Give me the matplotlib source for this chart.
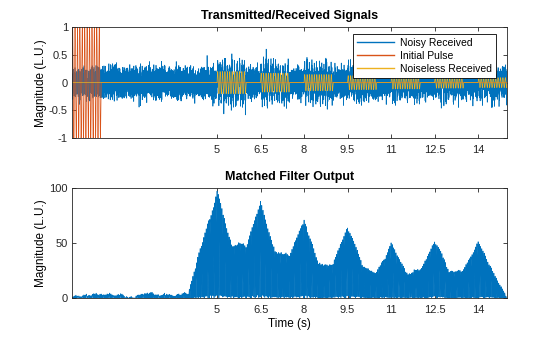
import numpy as np
import matplotlib
matplotlib.use("Agg")
import matplotlib.pyplot as plt

plt.rcParams['font.family'] = ['Liberation Sans', 'DejaVu Sans']

# signal parameters
fs = 1000                 # samples per second
duration = 15.0           # seconds of received signal
pulse_len = 1.0           # seconds
pulse_freq = 12.0         # Hz
noise_std = 0.12
echo_times = [5.0, 6.5, 8.0, 9.5, 11.0, 12.5, 14.0]
echo_amps = [0.20, 0.17, 0.146, 0.126, 0.114, 0.10, 0.09]

time_ticks = [5, 6.5, 8, 9.5, 11, 12.5, 14]
time_tick_labels = ['5', '6.5', '8', '9.5', '11', '12.5', '14']

blue = '#0072BD'
orange = '#D95319'
yellow = '#EDB120'

t = np.arange(int(duration * fs)) / fs
tp = np.arange(int(pulse_len * fs)) / fs
pulse = np.sin(2 * np.pi * pulse_freq * tp)

# transmitted pulse on the full time base
tx = np.zeros_like(t)
tx[:len(pulse)] = pulse

# noiseless echo train
clean = np.zeros_like(t)
for t0, a in zip(echo_times, echo_amps):
    i0 = int(round(t0 * fs))
    seg = pulse[:len(clean) - i0]
    clean[i0:i0 + len(seg)] += a * seg

rng = np.random.default_rng(7)
noisy = clean + noise_std * rng.standard_normal(len(t))

# matched filter: correlate the received signal with the pulse
mf = np.correlate(noisy, pulse, mode='full')[len(pulse) - 1:]
mf = np.abs(mf)

fig = plt.figure(figsize=(5.6, 3.37), dpi=100)
ax1 = fig.add_axes([0.1286, 0.5896, 0.777, 0.3304])
ax2 = fig.add_axes([0.1286, 0.1148, 0.777, 0.3273])

ax1.plot(t, noisy, color=blue, lw=0.5, label='Noisy Received')
ax1.plot(t, tx, color=orange, lw=0.5, label='Initial Pulse')
ax1.plot(t, clean, color=yellow, lw=0.5, label='Noiseless Received')
ax1.set_xlim(0, 15)
ax1.set_ylim(-1, 1)
ax1.set_yticks([-1, -0.5, 0, 0.5, 1])
ax1.set_yticklabels(['-1', '-0.5', '0', '0.5', '1'])
ax1.set_title('Transmitted/Received Signals', fontsize=9, fontweight='bold', pad=5.5)
ax1.set_ylabel('Magnitude (L.U.)', fontsize=8.5, labelpad=1.5)
leg = ax1.legend(loc='upper right', bbox_to_anchor=(0.8857, 0.899),
                 bbox_transform=fig.transFigure, borderaxespad=0,
                 fontsize=7.5, frameon=True, fancybox=False,
                 framealpha=1, edgecolor='black', borderpad=0.35,
                 handlelength=3.6, handletextpad=0.6, labelspacing=0.3)
leg.get_frame().set_linewidth(0.6)
for h in leg.get_lines():
    h.set_linewidth(1.0)

ax2.plot(t, mf, color=blue, lw=0.5)
ax2.set_xlim(0, 15)
ax2.set_ylim(0, 100)
ax2.set_yticks([0, 50, 100])
ax2.set_title('Matched Filter Output', fontsize=9, fontweight='bold', pad=5.5)
ax2.set_ylabel('Magnitude (L.U.)', fontsize=8.5, labelpad=1.5)
ax2.set_xlabel('Time (s)', fontsize=8.5, labelpad=2)

for ax in (ax1, ax2):
    ax.set_xticks(time_ticks)
    ax.set_xticklabels(time_tick_labels)
    ax.tick_params(direction='in', top=True, right=True, length=3,
                   width=0.6, labelsize=8, colors='#262626')
    ax.tick_params(axis='x', pad=5)
    ax.tick_params(axis='y', pad=3)
    for s in ax.spines.values():
        s.set_linewidth(0.6)
        s.set_color('#262626')

fig.savefig('out.png', dpi=100)
